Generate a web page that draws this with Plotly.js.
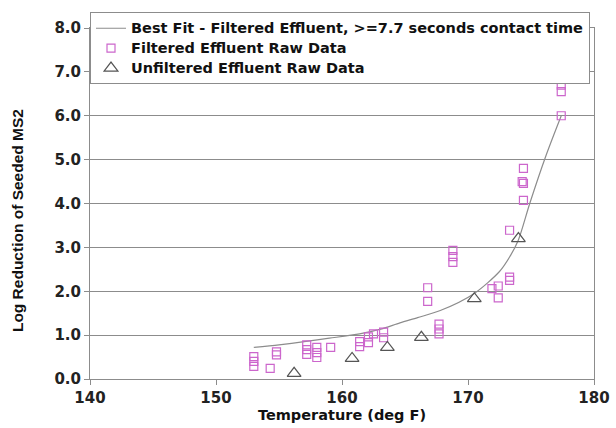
<!DOCTYPE html>
<html>
<head>
<meta charset="utf-8">
<script src="https://cdn.plot.ly/plotly-3.0.1.min.js"></script>
<style>html,body{margin:0;padding:0;background:#fff;}#chart{width:616px;height:428px;}</style>
</head>
<body>
<div id="chart"></div>
<script>
// Best fit curve
const fitTemp = [153.0, 155.0, 157.0, 159.0, 161.4, 163.0, 164.6, 166.0, 167.8, 170.5, 172.5, 173.3, 174.0, 174.9, 176.2, 177.4];
const fitLog  = [0.72, 0.78, 0.85, 0.93, 1.03, 1.13, 1.28, 1.40, 1.56, 1.95, 2.45, 2.78, 3.17, 4.00, 5.10, 6.00];

// Filtered effluent raw data
const filtTemp = [153.0, 153.0, 153.0, 154.3, 154.8, 154.8, 157.2, 157.2, 157.2, 158.0, 158.0, 158.0, 159.1,
                  161.4, 161.4, 162.1, 162.1, 162.5, 163.3, 163.3, 166.8, 166.8, 167.7, 167.7, 167.7,
                  168.8, 168.8, 168.8, 171.9, 172.4, 172.4, 173.3, 173.3, 173.3, 174.3, 174.4, 174.4, 174.4,
                  177.4, 177.4, 177.4];
const filtLog  = [0.51, 0.40, 0.29, 0.24, 0.62, 0.55, 0.78, 0.67, 0.56, 0.72, 0.60, 0.49, 0.72,
                  0.85, 0.74, 0.96, 0.83, 1.03, 1.07, 0.94, 2.08, 1.77, 1.25, 1.14, 1.03,
                  2.93, 2.79, 2.66, 2.06, 2.12, 1.85, 2.32, 2.25, 3.39, 4.50, 4.80, 4.46, 4.07,
                  6.70, 6.55, 6.00];

// Unfiltered effluent raw data
const unfTemp = [156.2, 160.8, 163.6, 166.3, 170.5, 174.0];
const unfLog  = [0.13, 0.47, 0.72, 0.95, 1.83, 3.20];

const seriesNames = ["Best Fit - Filtered Effluent, >=7.7 seconds contact time",
                     "Filtered Effluent Raw Data",
                     "Unfiltered Effluent Raw Data"];
const xTicks = [140, 150, 160, 170, 180];
const yTicks = [0, 1, 2, 3, 4, 5, 6, 7, 8];
const yTitle = "Log Reduction of Seeded MS2";
const xTitle = "Temperature (deg F)";

const WIDE = "DejaVu Sans, Verdana, sans-serif";
const NARROW = "Liberation Sans, Arial, sans-serif";
// legend rows are spaced from a smaller base size; the visible text is a bit larger
const big = s => '<span style="font-size:14.5px">' + s + '</span>';

const traces = [
  {x: fitTemp, y: fitLog, name: big(seriesNames[0]), type: "scatter", mode: "lines",
   line: {color: "#8c8c8c", width: 1.2, shape: "spline", smoothing: 0.8}},
  {x: filtTemp, y: filtLog, name: big(seriesNames[1]), type: "scatter", mode: "markers",
   marker: {symbol: "square-open", size: 8, color: "#cc66cc", line: {width: 1.2}}},
  {x: unfTemp, y: unfLog, name: big(seriesNames[2]), type: "scatter", mode: "markers",
   marker: {symbol: "triangle-up-open", size: 12, color: "#555555", line: {width: 1.2}}}
];

const layout = {
  width: 616, height: 428,
  margin: {l: 90, r: 22, t: 21, b: 49},
  paper_bgcolor: "#ffffff", plot_bgcolor: "#ffffff",
  font: {family: WIDE, color: "#222"},
  showlegend: true,
  legend: {x: 0, xanchor: "left", y: 1.0447, yanchor: "top",
           bgcolor: "#ffffff", bordercolor: "#8c8c8c", borderwidth: 1,
           font: {family: WIDE, size: 13, weight: "bold", color: "#111"},
           tracegroupgap: 0, itemwidth: 30},
  xaxis: {range: [140, 180], tickvals: xTicks, ticktext: xTicks.map(String),
          showgrid: false, zeroline: false, showline: true, linecolor: "#8c8c8c", linewidth: 1,
          mirror: true, ticks: "outside", ticklen: 5, tickcolor: "#8c8c8c",
          tickfont: {family: WIDE, size: 15, weight: "bold", color: "#222"},
          title: {text: xTitle, standoff: 2,
                  font: {family: WIDE, size: 14.5, weight: "bold", color: "#111"}}},
  yaxis: {range: [0, 8], tickvals: yTicks, ticktext: yTicks.map(v => v.toFixed(1)),
          showgrid: true, gridcolor: "#8c8c8c", gridwidth: 1,
          zeroline: false, showline: true, linecolor: "#8c8c8c", linewidth: 1,
          mirror: true, ticks: "outside", ticklen: 5, tickcolor: "#8c8c8c",
          tickfont: {family: WIDE, size: 15, weight: "bold", color: "#222"}},
  annotations: [
    {text: yTitle, xref: "paper", yref: "paper", x: -0.145, y: 0.4525,
     xanchor: "center", yanchor: "middle", textangle: -90, showarrow: false,
     font: {family: NARROW, size: 15.5, weight: "bold", color: "#111"}}
  ]
};

Plotly.newPlot("chart", traces, layout, {displayModeBar: false, staticPlot: true});
</script>
</body>
</html>
